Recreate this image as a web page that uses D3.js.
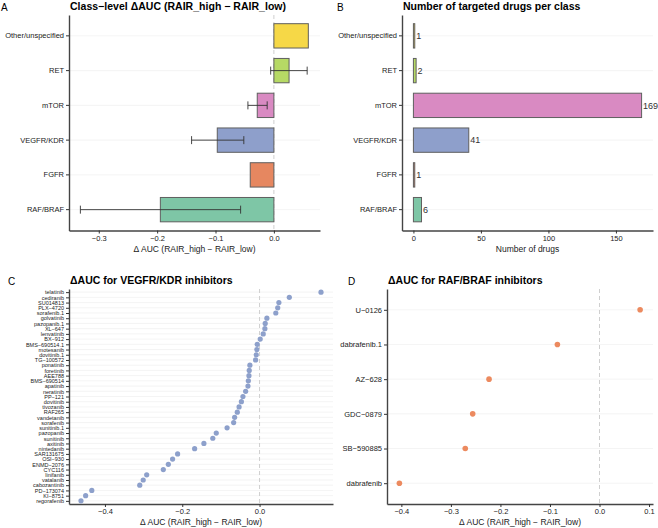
<!DOCTYPE html>
<html>
<head>
<meta charset="utf-8">
<script src="https://cdn.jsdelivr.net/npm/d3@7"></script>
<style>
  body { margin: 0; background: #fff; }
  svg { font-family: "Liberation Sans", Arial, sans-serif; }
</style>
</head>
<body>
<svg id="fig" width="658" height="528"></svg>
<script>
// class level data (top row of the figure, listed top to bottom)
const classes = ["Other/unspecified", "RET", "mTOR", "VEGFR/KDR", "FGFR", "RAF/BRAF"];
const classDelta = [0.059, 0.026, -0.0285, -0.097, -0.0405, -0.1945];
const classLo = [null, -0.0055, -0.0445, -0.141, null, -0.3315];
const classHi = [null, 0.057, -0.0115, -0.0515, null, -0.057];
const classCounts = [1, 2, 169, 41, 1, 6];
const classColors = ["#F6D847", "#B6D965", "#D98AC2", "#8E9FCB", "#E68760", "#7EC6A6"];

// VEGFR/KDR inhibitors
const vegfrDrugs = ["telatinib", "cediranib", "SU014813", "PLX−4720", "sorafenib.1", "golvatinib",
  "pazopanib.1", "XL−647", "lenvatinib", "BX−912", "BMS−690514.1", "motesanib", "dovitinib.1",
  "TG−100572", "ponatinib", "foretinib", "AEE788", "BMS−690514", "apatinib", "neratinib", "PP−121",
  "dovitinib", "tivozanib", "RAF265", "vandetanib", "sorafenib", "sunitinib.1", "pazopanib",
  "sunitinib", "axitinib", "nintedanib", "SAR131675", "OSI−930", "ENMD−2076", "CYC116", "linifanib",
  "vatalanib", "cabozantinib", "PD−173074", "KI−8751", "regorafenib"];
const vegfrDelta = [0.159, 0.077, 0.050, 0.047, 0.042, 0.019, 0.0146, 0.0138, 0.0095, 0.0017,
  -0.006, -0.007, -0.0086, -0.0103, -0.025, -0.0267, -0.0275, -0.029, -0.030, -0.036, -0.043,
  -0.047, -0.053, -0.0576, -0.0645, -0.067, -0.084, -0.112, -0.121, -0.144, -0.168, -0.212,
  -0.225, -0.236, -0.249, -0.292, -0.301, -0.310, -0.434, -0.450, -0.462];

// RAF/BRAF inhibitors
const rafDrugs = ["U−0126", "dabrafenib.1", "AZ−628", "GDC−0879", "SB−590885", "dabrafenib"];
const rafDelta = [0.082, -0.085, -0.223, -0.256, -0.271, -0.404];

const ticksA = [-0.3, -0.2, -0.1, 0.0];
const ticksB = [0, 50, 100, 150];
const ticksC = [-0.4, -0.2, 0.0];
const ticksD = [-0.4, -0.3, -0.2, -0.1, 0.0, 0.1];

const deltaLabel = "Δ AUC (RAIR_high − RAIR_low)";
const svg = d3.select("#fig");
const fmt = d3.format(".1f");

function styleAxis(g, fontSize) {
    g.select(".domain").attr("stroke", "#444").attr("stroke-width", 1.4);
    g.selectAll(".tick line").attr("stroke", "#333");
    g.selectAll(".tick text").attr("fill", "#222").style("font-size", fontSize + "px")
        .style("font-family", "'Liberation Sans', Arial, sans-serif");
}

function drawPanel(x, y, ticks, tickFmt, yFont, opts) {
    const g = svg.append("g");
    const [x0, x1] = x.range();
    const [y0, y1] = y.range();

    // horizontal grid
    g.selectAll(".grid")
        .data(y.domain())
        .enter().append("line")
        .attr("x1", x0).attr("x2", x1)
        .attr("y1", d => y(d) + (y.bandwidth ? y.bandwidth() / 2 : 0))
        .attr("y2", d => y(d) + (y.bandwidth ? y.bandwidth() / 2 : 0))
        .attr("stroke", "#ececec").attr("stroke-width", 0.6);

    if (opts.zeroLine) {
        g.append("line")
            .attr("x1", x(0)).attr("x2", x(0))
            .attr("y1", y0).attr("y2", y1)
            .attr("stroke", "#cfcfcf").attr("stroke-width", 1)
            .attr("stroke-dasharray", "4,3");
    }

    const xAxis = g.append("g")
        .attr("transform", `translate(0,${y1})`)
        .call(d3.axisBottom(x).tickValues(ticks).tickFormat(tickFmt).tickSize(3).tickSizeOuter(0).tickPadding(2));
    styleAxis(xAxis, 7.5);

    const yAxis = g.append("g")
        .attr("transform", `translate(${x0},0)`)
        .call(d3.axisLeft(y).tickSize(3).tickSizeOuter(0).tickPadding(2));
    styleAxis(yAxis, yFont);

    g.append("text")
        .attr("x", (x0 + x1) / 2).attr("y", y1 + 21)
        .attr("text-anchor", "middle")
        .style("font-size", "8.5px").attr("fill", "#222")
        .text(opts.xTitle);

    const t = g.append("text")
        .attr("x", opts.titleX).attr("y", y0 - 5.5)
        .style("font-size", "10.5px").style("font-weight", "bold")
        .text(opts.title);
    if (opts.titleLen) t.attr("textLength", opts.titleLen).attr("lengthAdjust", "spacing");

    g.append("text")
        .attr("x", opts.tagX).attr("y", y0 - 4.5)
        .style("font-size", "10px")
        .text(opts.tag);
    return g;
}

// ---- Panel A: class-level delta AUC
const xA = d3.scaleLinear().domain([-0.351, 0.079]).range([69, 320]);
const yA = d3.scaleBand().domain(classes).range([15, 230.5]).paddingInner(0.3).paddingOuter(0.25);
const gA = drawPanel(xA, yA, ticksA, fmt, 7.5, {
    zeroLine: true, xTitle: deltaLabel, title: "Class−level ΔAUC (RAIR_high − RAIR_low)",
    titleX: 70, titleLen: 216, tag: "A", tagX: 1
});
const rowsA = classes.map((c, i) => ({ c, v: classDelta[i], lo: classLo[i], hi: classHi[i], col: classColors[i] }));
gA.selectAll(".bar")
    .data(rowsA)
    .enter().append("rect")
    .attr("x", d => Math.min(xA(0), xA(d.v)))
    .attr("width", d => Math.abs(xA(d.v) - xA(0)))
    .attr("y", d => yA(d.c))
    .attr("height", yA.bandwidth())
    .attr("fill", d => d.col)
    .attr("stroke", "#5f5f5f").attr("stroke-width", 1);
const errA = gA.selectAll(".err")
    .data(rowsA.filter(d => d.lo !== null))
    .enter().append("g")
    .attr("stroke", "#333").attr("stroke-width", 0.9);
errA.append("line")
    .attr("x1", d => xA(d.lo)).attr("x2", d => xA(d.hi))
    .attr("y1", d => yA(d.c) + yA.bandwidth() / 2).attr("y2", d => yA(d.c) + yA.bandwidth() / 2);
["lo", "hi"].forEach(k => {
    errA.append("line")
        .attr("x1", d => xA(d[k])).attr("x2", d => xA(d[k]))
        .attr("y1", d => yA(d.c) + yA.bandwidth() / 2 - 4)
        .attr("y2", d => yA(d.c) + yA.bandwidth() / 2 + 4);
});

// ---- Panel B: number of drugs per class
const xB = d3.scaleLinear().domain([-8.45, 177.45]).range([402, 653]);
const yB = d3.scaleBand().domain(classes).range([15, 230.5]).paddingInner(0.3).paddingOuter(0.25);
const gB = drawPanel(xB, yB, ticksB, d3.format("d"), 7.5, {
    zeroLine: false, xTitle: "Number of drugs", title: "Number of targeted drugs per class",
    titleX: 403, tag: "B", tagX: 337
});
const rowsB = classes.map((c, i) => ({ c, n: classCounts[i], col: classColors[i] }));
gB.selectAll(".bar")
    .data(rowsB)
    .enter().append("rect")
    .attr("x", xB(0))
    .attr("width", d => xB(d.n) - xB(0))
    .attr("y", d => yB(d.c))
    .attr("height", yB.bandwidth())
    .attr("fill", d => d.col)
    .attr("stroke", "#5f5f5f").attr("stroke-width", 1);
gB.selectAll(".lbl")
    .data(rowsB)
    .enter().append("text")
    .attr("x", d => xB(d.n) + 1.5)
    .attr("y", d => yB(d.c) + yB.bandwidth() / 2)
    .attr("dy", "0.35em")
    .style("font-size", "9px").attr("fill", "#333")
    .text(d => d.n);

// ---- Panel C: VEGFR/KDR inhibitors
const xC = d3.scaleLinear().domain([-0.493, 0.190]).range([69, 333]);
const yC = d3.scalePoint().domain(vegfrDrugs).range([289, 504]).padding(0.6);
const gC = drawPanel(xC, yC, ticksC, fmt, 5.5, {
    zeroLine: true, xTitle: deltaLabel, title: "ΔAUC for VEGFR/KDR inhibitors",
    titleX: 70, tag: "C", tagX: 8
});
gC.selectAll(".pt")
    .data(vegfrDrugs.map((d, i) => ({ d, v: vegfrDelta[i] })))
    .enter().append("circle")
    .attr("cx", d => xC(d.v))
    .attr("cy", d => yC(d.d))
    .attr("r", 2.6)
    .attr("fill", "#8DA0CB");

// ---- Panel D: RAF/BRAF inhibitors
const xD = d3.scaleLinear().domain([-0.429, 0.108]).range([387, 653]);
const yD = d3.scalePoint().domain(rafDrugs).range([289, 504]).padding(0.6);
const gD = drawPanel(xD, yD, ticksD, fmt, 7.5, {
    zeroLine: true, xTitle: deltaLabel, title: "ΔAUC for RAF/BRAF inhibitors",
    titleX: 388, tag: "D", tagX: 348
});
gD.selectAll(".pt")
    .data(rafDrugs.map((d, i) => ({ d, v: rafDelta[i] })))
    .enter().append("circle")
    .attr("cx", d => xD(d.v))
    .attr("cy", d => yD(d.d))
    .attr("r", 2.8)
    .attr("fill", "#EC8A5F");
</script>
</body>
</html>
